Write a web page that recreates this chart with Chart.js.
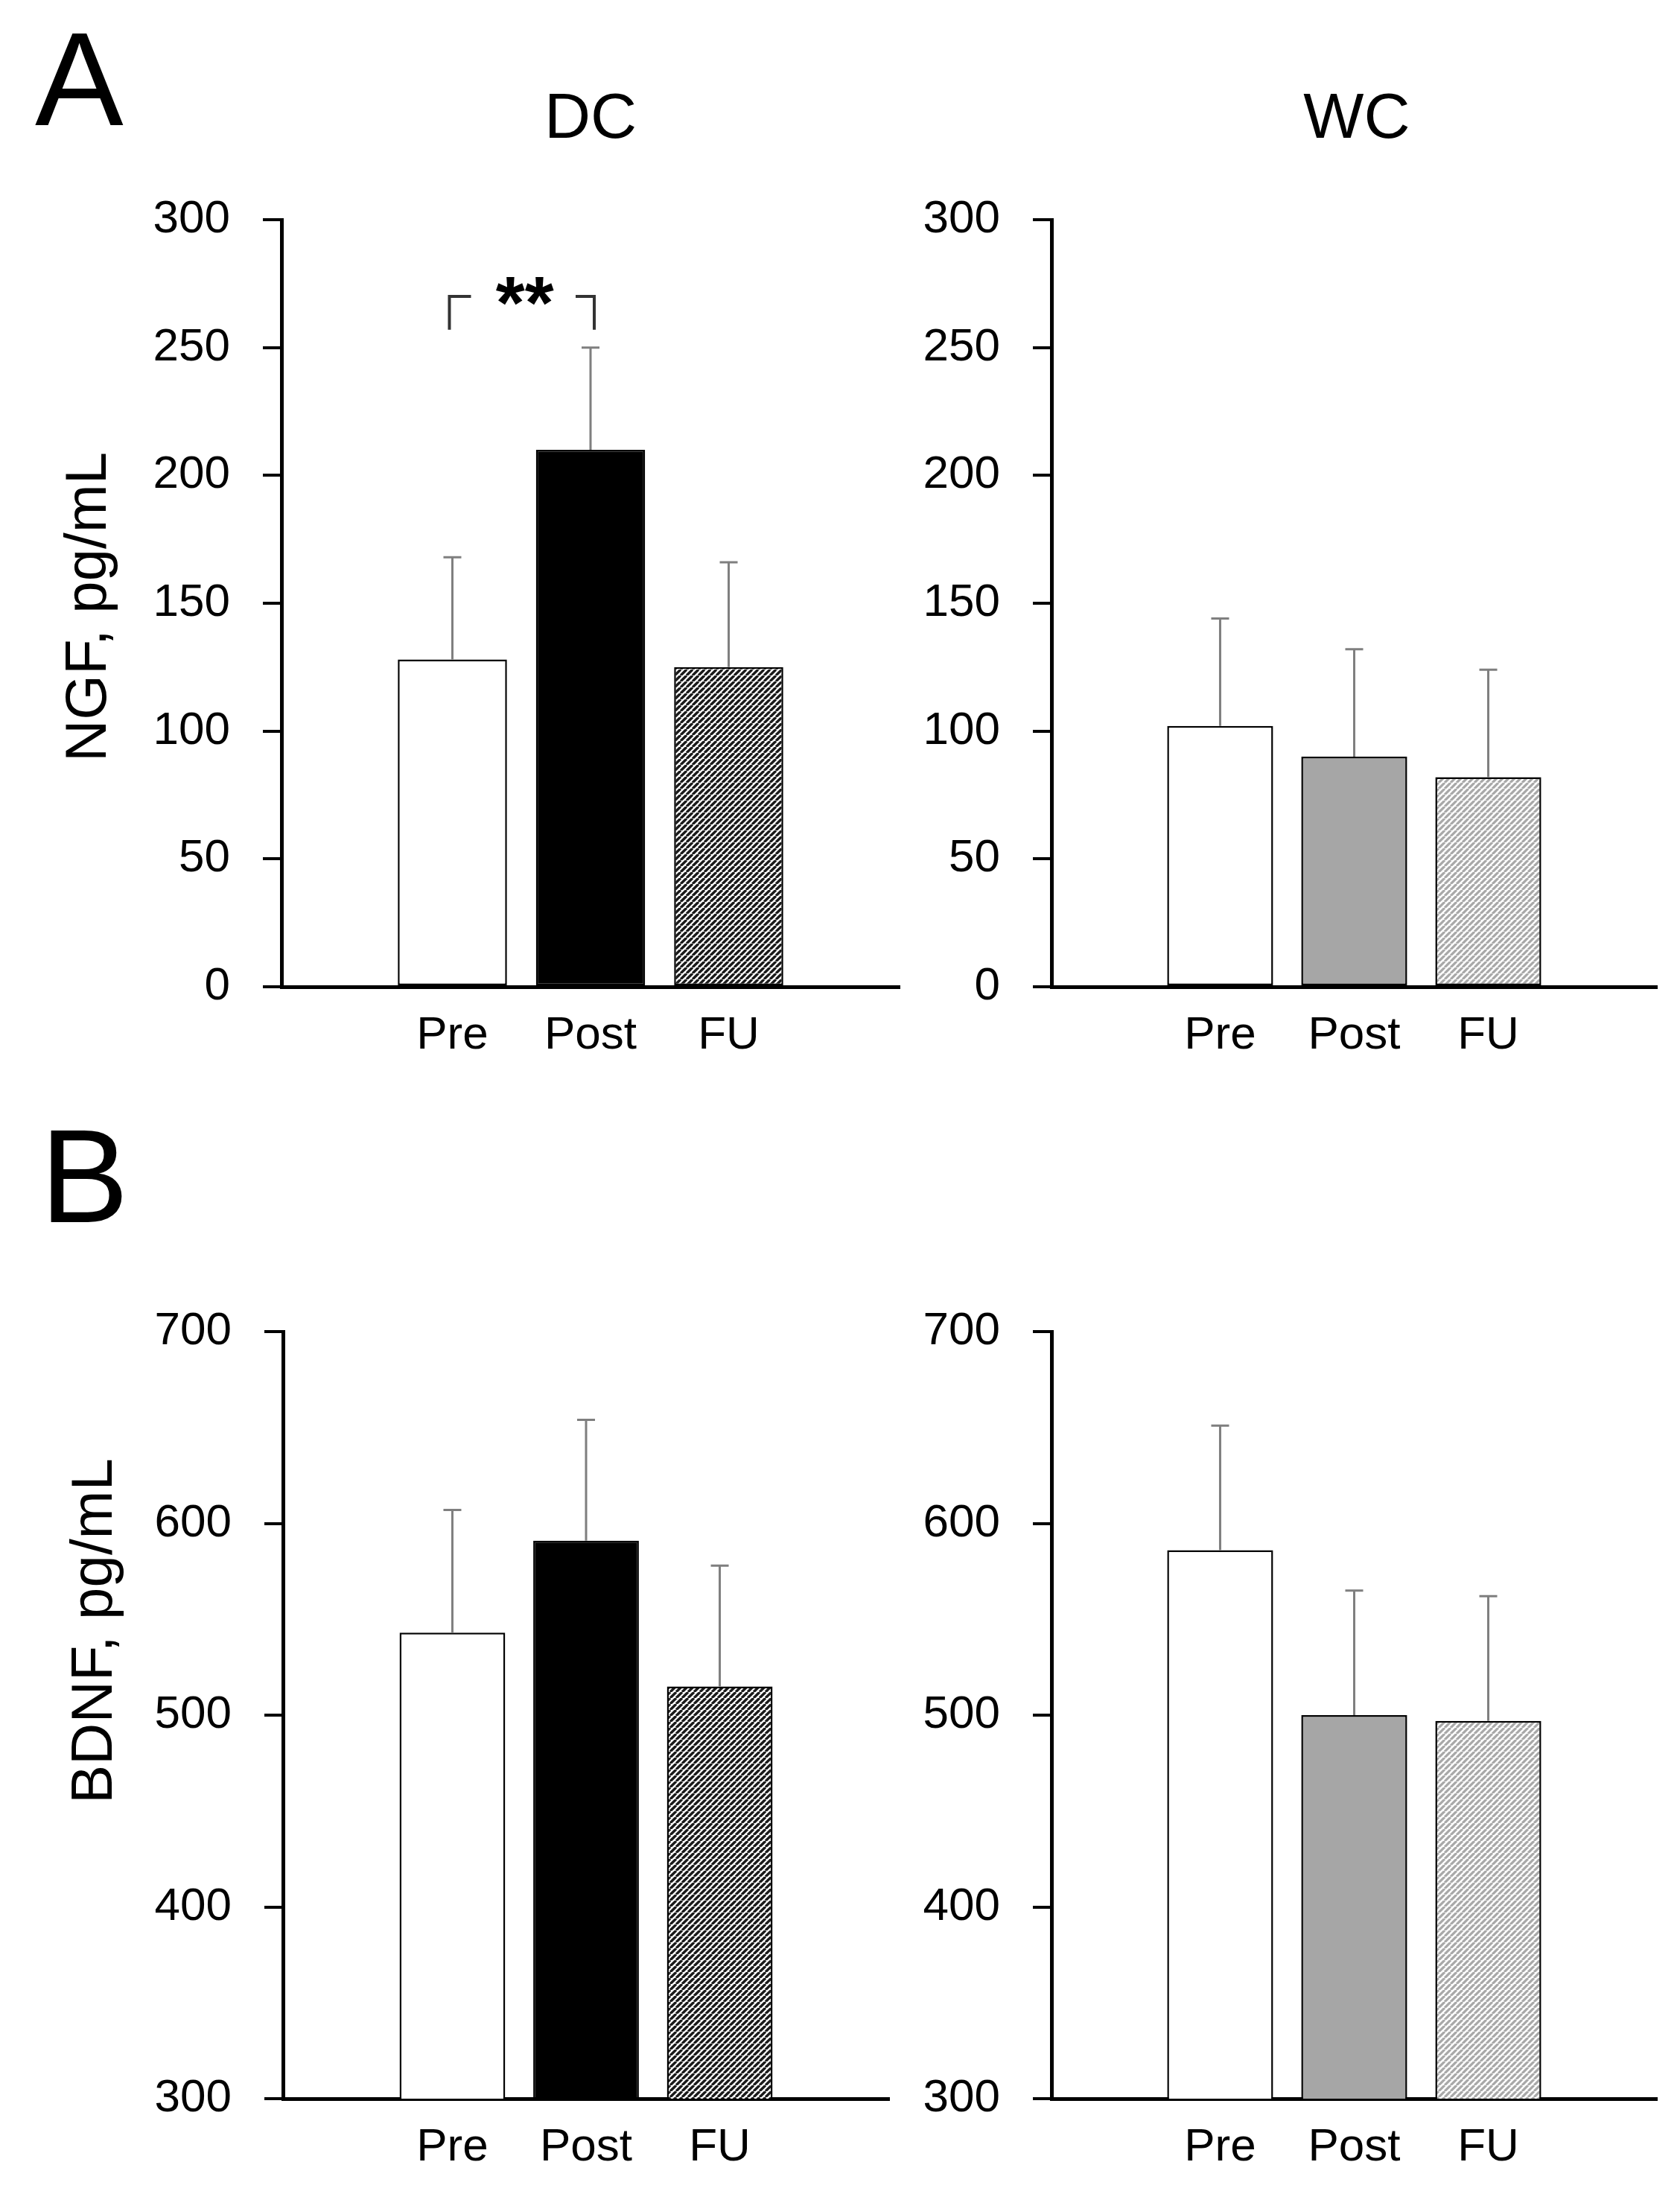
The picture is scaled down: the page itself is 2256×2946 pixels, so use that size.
<!DOCTYPE html>
<html>
<head>
<meta charset="utf-8">
<script src="https://cdn.jsdelivr.net/npm/chart.js@4.4.1/dist/chart.umd.min.js"></script>
<style>
  html, body { margin: 0; padding: 0; background: #fff; }
  body { width: 2256px; height: 2946px; position: relative; overflow: hidden;
         font-family: "Liberation Sans", Arial, sans-serif; color: #000; }
  canvas { position: absolute; }
  .lbl { position: absolute; line-height: 1; white-space: nowrap; }
  .panel { font-size: 178px; }
  .col { font-size: 86px; transform: translateX(-50%); }
  .ytitle { font-size: 78px; width: 700px; text-align: center;
            transform-origin: 0 0; transform: rotate(-90deg); }
</style>
</head>
<body>
<div class="lbl panel" style="left:47px;top:18px">A</div>
<div class="lbl panel" style="left:54px;top:1491px">B</div>
<div class="lbl col" style="left:793px;top:112px">DC</div>
<div class="lbl col" style="left:1822px;top:112px">WC</div>
<div class="lbl ytitle" style="left:76px;top:1165px">NGF, pg/mL</div>
<div class="lbl ytitle" style="left:84px;top:2540px">BDNF, pg/mL</div>

<script>
// values (mean and upper error = SD)
const categories = ['Pre', 'Post', 'FU'];

const ngfDC = [128, 210, 125];
const ngfDCErr = [40, 40, 41];
const ngfWC = [102, 90, 82];
const ngfWCErr = [42, 42, 42];

const bdnfDC = [543, 591, 515];
const bdnfDCErr = [64, 63, 63];
const bdnfWC = [586, 500, 497];
const bdnfWCErr = [65, 65, 65];

const ngfTicks = [0, 50, 100, 150, 200, 250, 300];
const bdnfTicks = [300, 400, 500, 600, 700];

// significance bracket Pre vs Post in NGF / DC
const sigPair = [0, 1];
const sigLabel = '**';
const sigTop = 270;
const sigFoot = 257;

const FONT = '"Liberation Sans", Arial, sans-serif';
const PAD_TOP = 100;

// diagonal hatch fill
function hatch(lineColor, size, width) {
    const c = document.createElement('canvas');
    c.width = c.height = size;
    const g = c.getContext('2d');
    g.fillStyle = '#fff';
    g.fillRect(0, 0, size, size);
    g.strokeStyle = lineColor;
    g.lineWidth = width;
    g.beginPath();
    for (let k = -1; k <= 1; k++) {
        g.moveTo(k * size, size);
        g.lineTo(k * size + size, 0);
    }
    g.stroke();
    return g.createPattern(c, 'repeat');
}

const dcFills = ['#ffffff', '#000000', hatch('#1a1a1a', 8, 3.4)];
const wcFills = ['#ffffff', '#a6a6a6', hatch('#a8a8a8', 8, 3.2)];

// upward error bars with a cap
const errorBars = {
    id: 'errorBars',
    afterDatasetsDraw(chart) {
        const ctx = chart.ctx;
        const y = chart.scales.y;
        chart.data.datasets.forEach((ds, di) => {
            const meta = chart.getDatasetMeta(di);
            meta.data.forEach((bar, i) => {
                const top = y.getPixelForValue(ds.data[i].y + ds.err[i]);
                ctx.save();
                ctx.strokeStyle = '#7f7f7f';
                ctx.lineWidth = 3;
                ctx.beginPath();
                ctx.moveTo(bar.x, bar.y);
                ctx.lineTo(bar.x, top);
                ctx.moveTo(bar.x - 12, top);
                ctx.lineTo(bar.x + 12, top);
                ctx.stroke();
                ctx.restore();
            });
        });
    }
};

const sigBracket = {
    id: 'sigBracket',
    afterDatasetsDraw(chart) {
        const ctx = chart.ctx;
        const x = chart.scales.x, y = chart.scales.y;
        const x1 = x.getPixelForValue(sigPair[0] + 1) - 4;
        const x2 = x.getPixelForValue(sigPair[1] + 1) + 5;
        const yt = y.getPixelForValue(sigTop);
        const yb = y.getPixelForValue(sigFoot);
        ctx.save();
        ctx.strokeStyle = '#333';
        ctx.lineWidth = 4;
        ctx.beginPath();
        ctx.moveTo(x1, yb); ctx.lineTo(x1, yt); ctx.lineTo(x1 + 29, yt);
        ctx.moveTo(x2 - 25, yt); ctx.lineTo(x2, yt); ctx.lineTo(x2, yb);
        ctx.stroke();
        ctx.fillStyle = '#000';
        ctx.font = 'bold 100px ' + FONT;
        ctx.textAlign = 'center';
        ctx.textBaseline = 'alphabetic';
        ctx.fillText(sigLabel, (x1 + x2) / 2 + 4, yt + 43);
        ctx.restore();
    }
};

function makePanel(p) {
    const cw = (2 + 2 * p.pad) * p.step;
    const W = Math.round(200 + cw + 30);
    const H = Math.round(p.bottom - p.top + PAD_TOP + 130);
    const canvas = document.createElement('canvas');
    canvas.width = W;
    canvas.height = H;
    canvas.style.left = (p.axisX - 200) + 'px';
    canvas.style.top = (p.top - PAD_TOP) + 'px';
    canvas.style.width = W + 'px';
    canvas.style.height = H + 'px';
    document.body.appendChild(canvas);

    const font = { family: FONT, size: 62 };
    new Chart(canvas, {
        type: 'bar',
        data: {
            datasets: [{
                data: p.values.map((v, i) => ({ x: i + 1, y: v })),
                err: p.err,
                backgroundColor: p.fills,
                borderColor: '#000',
                borderWidth: 2.5,
                borderSkipped: false,
                barPercentage: 0.79,
                categoryPercentage: 1
            }]
        },
        options: {
            responsive: false,
            animation: false,
            devicePixelRatio: 1,
            layout: { padding: { top: PAD_TOP, right: 30, left: 0, bottom: 0 } },
            plugins: { legend: { display: false }, tooltip: { enabled: false } },
            scales: {
                x: {
                    type: 'linear',
                    offset: false,
                    min: 1 - p.pad,
                    max: 3 + p.pad,
                    afterBuildTicks: s => { s.ticks = categories.map((c, i) => ({ value: i + 1 })); },
                    afterFit: s => { s.height = 130; },
                    grid: { display: false, drawTicks: false },
                    border: { display: true, color: '#000', width: 5 },
                    ticks: {
                        callback: v => categories[v - 1],
                        font: font, color: '#000', padding: 29,
                        maxRotation: 0, autoSkip: false
                    }
                },
                y: {
                    min: p.ticks[0],
                    max: p.ticks[p.ticks.length - 1],
                    afterBuildTicks: s => { s.ticks = p.ticks.map(v => ({ value: v })); },
                    afterFit: s => { s.width = 200; },
                    grid: {
                        display: true, drawOnChartArea: false, drawTicks: true,
                        tickLength: 25, color: '#000', lineWidth: 4
                    },
                    border: { display: true, color: '#000', width: 5 },
                    ticks: { font: font, color: '#000', padding: 44 }
                }
            }
        },
        plugins: p.sig ? [errorBars, sigBracket] : [errorBars]
    });
}

makePanel({ axisX: 378, top: 295, bottom: 1325, step: 185.5, pad: 1.237,
            values: ngfDC, err: ngfDCErr, fills: dcFills, ticks: ngfTicks, sig: true });
makePanel({ axisX: 1412, top: 295, bottom: 1325, step: 180, pad: 1.258,
            values: ngfWC, err: ngfWCErr, fills: wcFills, ticks: ngfTicks });
makePanel({ axisX: 380, top: 1788, bottom: 2818, step: 179.5, pad: 1.267,
            values: bdnfDC, err: bdnfDCErr, fills: dcFills, ticks: bdnfTicks });
makePanel({ axisX: 1412, top: 1788, bottom: 2818, step: 180, pad: 1.258,
            values: bdnfWC, err: bdnfWCErr, fills: wcFills, ticks: bdnfTicks });
</script>
</body>
</html>
